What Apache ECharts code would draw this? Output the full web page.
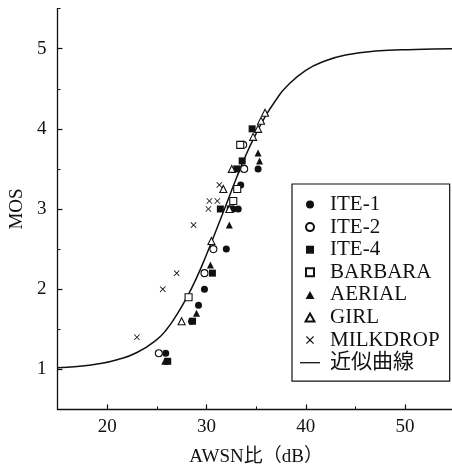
<!DOCTYPE html>
<html>
<head>
<meta charset="utf-8">
<script src="https://cdn.jsdelivr.net/npm/echarts@6/dist/echarts.min.js"></script>
<style>
  html, body { margin: 0; padding: 0; background: #fff; }
  #chart { width: 452px; height: 468px; }
</style>
</head>
<body>
<div id="chart"></div>
<script>
// Measured MOS against AWSN ratio (dB) for each test sequence
const ite1 = [[25.9, 1.2], [28.5, 1.6], [29.2, 1.8], [29.8, 2.0], [32.0, 2.5], [32.7, 3.0], [33.2, 3.0], [33.45, 3.3], [35.2, 3.5]];
const ite2 = [[25.2, 1.2], [29.8, 2.2], [30.7, 2.5], [33.8, 3.5], [33.7, 3.8]];
const ite4 = [[26.1, 1.1], [28.6, 1.6], [30.6, 2.2], [31.4, 3.0], [32.4, 3.0], [33.05, 3.5], [33.6, 3.6], [34.6, 4.0]];
const barbara = [[28.2, 1.9], [32.7, 3.1], [33.1, 3.25], [33.4, 3.8]];
const aerial = [[25.8, 1.1], [29.0, 1.7], [30.4, 2.3], [32.3, 2.8], [35.2, 3.7], [35.35, 3.6]];
const girl = [[27.5, 1.6], [30.5, 2.6], [31.7, 3.25], [32.3, 3.0], [32.55, 3.5], [34.7, 3.9], [35.2, 4.0], [35.5, 4.1], [35.9, 4.2]];
const milkdrop = [[23.0, 1.4], [25.6, 2.0], [27.0, 2.2], [28.7, 2.8], [30.2, 3.0], [30.3, 3.1], [31.1, 3.1], [31.3, 3.3]];

// Fitted approximation curve
const fitCurve = [
  [15, 1.02], [17, 1.035], [19, 1.065], [21, 1.12], [23, 1.21], [25, 1.37], [26, 1.50],
  [27, 1.68], [28, 1.89], [29, 2.14], [30, 2.43], [31, 2.74], [32, 3.06], [33, 3.38],
  [34, 3.68], [35, 3.94], [36, 4.17], [37, 4.36], [38, 4.52], [40, 4.73], [42, 4.85],
  [44, 4.92], [47, 4.97], [51, 4.99], [55, 5.0]
];

// Axis ticks and labels
const xMajor = [20, 30, 40, 50];
const xMinor = [25, 35, 45];
const yMajor = [1, 2, 3, 4, 5];
const yMinor = [1.5, 2.5, 3.5, 4.5, 5.5];

const INK = '#111';
const FONT = "'Liberation Serif', 'Noto Sans CJK JP', serif";
// Path symbols keep their aspect inside the legend's icon box
const crossPath = 'path://M1,0L5,4L9,0L10,1L6,5L10,9L9,10L5,6L1,10L0,9L4,5L0,1Z';
const squarePath = 'path://M0,0L10,0L10,10L0,10Z';
const trianglePath = 'path://M5,0L10,9L0,9Z';
const dashPath = 'path://M0,0L20,0L20,1.3L0,1.3Z';

const filled = { color: INK, opacity: 1 };
const hollow = { color: '#fff', borderColor: INK, borderWidth: 1.1, opacity: 1 };

function scatter(name, data, symbol, size, style) {
  return {
    name, type: 'scatter', data, symbol, symbolSize: size,
    symbolKeepAspect: true,
    itemStyle: style, z: 3,
    emphasis: { disabled: true }
  };
}

const axisText = { color: INK, fontFamily: FONT, fontSize: 19 };

const option = {
  backgroundColor: '#fff',
  animation: false,
  grid: { left: 57.5, top: 8.6, width: 397.2, height: 400.8, outerBoundsMode: 'none' },
  legend: {
    orient: 'vertical',
    left: 292, top: 184,
    padding: [10, 10, 8, 8],
    borderColor: INK, borderWidth: 1.2,
    itemWidth: 20, itemHeight: 8, itemGap: 1.6,
    symbolKeepAspect: true,
    itemStyle: { opacity: 1 },
    textStyle: { color: INK, fontFamily: FONT, fontSize: 21, lineHeight: 21, padding: [0, 0, 0, 5] },
    data: [
      { name: 'ITE-1' },
      { name: 'ITE-2' },
      { name: 'ITE-4', icon: squarePath },
      { name: 'BARBARA', icon: squarePath },
      { name: 'AERIAL', icon: trianglePath },
      { name: 'GIRL', icon: trianglePath },
      { name: 'MILKDROP' },
      { name: '近似曲線', icon: dashPath }
    ]
  },
  xAxis: [
    {
      type: 'value', min: 15, max: 55, position: 'bottom',
      name: 'AWSN比（dB）', nameLocation: 'middle', nameGap: 38,
      nameTextStyle: axisText,
      axisLine: { show: true, lineStyle: { color: INK, width: 1.3 } },
      axisTick: { show: true, inside: true, length: 5, customValues: xMajor, lineStyle: { color: INK, width: 1.2 } },
      axisLabel: { show: true, margin: 8, customValues: xMajor, ...axisText },
      splitLine: { show: false }
    },
    {
      type: 'value', min: 15, max: 55, position: 'bottom',
      axisLine: { show: false },
      axisTick: { show: true, inside: true, length: 3, customValues: xMinor, lineStyle: { color: INK, width: 1 } },
      axisLabel: { show: false },
      splitLine: { show: false }
    }
  ],
  yAxis: [
    {
      type: 'value', min: 0.5, max: 5.5, position: 'left',
      name: 'MOS', nameLocation: 'middle', nameGap: 19,
      nameTextStyle: axisText,
      axisLine: { show: true, lineStyle: { color: INK, width: 1.3 } },
      axisTick: { show: true, inside: true, length: 5, customValues: yMajor, lineStyle: { color: INK, width: 1.2 } },
      axisLabel: { show: true, margin: 11, customValues: yMajor, ...axisText },
      splitLine: { show: false }
    },
    {
      type: 'value', min: 0.5, max: 5.5, position: 'left',
      axisLine: { show: false },
      axisTick: { show: true, inside: true, length: 3, customValues: yMinor, lineStyle: { color: INK, width: 1 } },
      axisLabel: { show: false },
      splitLine: { show: false }
    }
  ],
  series: [
    {
      name: '近似曲線', type: 'line', data: fitCurve, smooth: true,
      symbol: 'none', z: 2,
      lineStyle: { color: INK, width: 1.5 },
      itemStyle: { color: INK },
      emphasis: { disabled: true }
    },
    scatter('ITE-1', ite1, 'circle', 7, filled),
    scatter('ITE-2', ite2, 'circle', 7, hollow),
    scatter('ITE-4', ite4, 'rect', 7, filled),
    scatter('BARBARA', barbara, 'rect', 7, hollow),
    scatter('AERIAL', aerial, 'triangle', 7, filled),
    scatter('GIRL', girl, 'triangle', 7, hollow),
    scatter('MILKDROP', milkdrop, crossPath, 6, filled)
  ]
};

const chart = echarts.init(document.getElementById('chart'), null, { renderer: 'canvas' });
chart.setOption(option);
</script>
</body>
</html>
